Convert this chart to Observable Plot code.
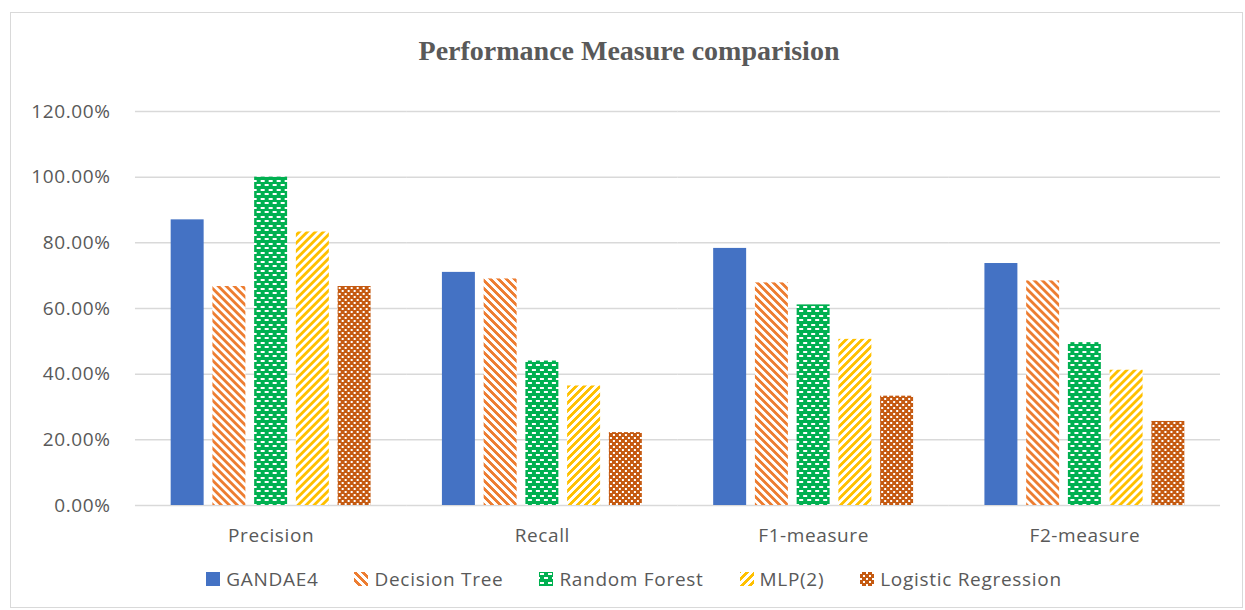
<!DOCTYPE html>
<html><head><meta charset="utf-8">
<script src="https://cdn.jsdelivr.net/npm/d3@7"></script>
<script src="https://cdn.jsdelivr.net/npm/@observablehq/plot@0.6"></script>
<style>
body{margin:0;background:#fff;}
#wrap{position:relative;width:1245px;height:610px;overflow:hidden;font-family:"Open Sans",sans-serif;background:#fff;}
#frame{position:absolute;left:10px;top:12px;width:1231px;height:594px;border:1px solid #d9d9d9;}
#title{position:absolute;top:35px;left:0;width:1258px;text-align:center;font:bold 28px "Liberation Serif",serif;color:#595959;}
#chart{position:absolute;left:0;top:80px;}
#legend{position:absolute;top:566px;left:0;width:1268px;display:flex;justify-content:center;gap:36px;font-size:19px;color:#595959;letter-spacing:0.7px;}
#legend .item{display:flex;align-items:center;white-space:nowrap;}
#legend svg{margin-right:6px;}
#defs{position:absolute;width:0;height:0;}
</style></head>
<body>
<div id="wrap">
<svg id="defs" width="0" height="0"><defs id="patdefs"></defs></svg>
<div id="frame"></div>
<div id="title">Performance Measure comparision</div>
<div id="chart"></div>
<div id="legend"></div>
</div>
<script>
const categories = ["Precision", "Recall", "F1-measure", "F2-measure"];
const seriesNames = ["GANDAE4", "Decision Tree", "Random Forest", "MLP(2)", "Logistic Regression"];
const gandae4 = [87.0, 71.0, 78.3, 73.7];
const decisionTree = [66.7, 69.0, 67.8, 68.4];
const randomForest = [100.0, 44.0, 61.1, 49.6];
const mlp2 = [83.3, 36.4, 50.6, 41.2];
const logisticRegression = [66.7, 22.2, 33.3, 25.6];
const yTicks = [0, 20, 40, 60, 80, 100, 120];

const seriesValues = [gandae4, decisionTree, randomForest, mlp2, logisticRegression];
const seriesFills = ["#4472C4", "url(#pat-dt)", "url(#pat-rf)", "url(#pat-mlp)", "url(#pat-lr)"];

// ---- patterns ----
const NS = "http://www.w3.org/2000/svg";
const defs = document.getElementById("patdefs");
function bitmapPattern(id, rows, fg, bg) {
  const p = document.createElementNS(NS, "pattern");
  const w = rows[0].length, h = rows.length;
  p.setAttribute("id", id);
  p.setAttribute("patternUnits", "userSpaceOnUse");
  p.setAttribute("width", w); p.setAttribute("height", h);
  const b = document.createElementNS(NS, "rect");
  b.setAttribute("width", w); b.setAttribute("height", h); b.setAttribute("fill", bg);
  p.appendChild(b);
  let d = "";
  rows.forEach((r, y) => { for (let x = 0; x < w; x++) if (r[x] === "1") d += `M${x},${y}h1v1h-1z`; });
  const path = document.createElementNS(NS, "path");
  path.setAttribute("d", d); path.setAttribute("fill", fg);
  p.appendChild(path);
  defs.appendChild(p);
}
const downDiag = ["11100001","11110000","01111000","00111100","00011110","00001111","10000111","11000011"];
const upDiag = downDiag.map(r => r.split("").reverse().join(""));
const dashes = ["00000000","01111000","01111000","00000000","00000000","10000111","10000111","00000000","00000000"];
const checker = ["110000","110000","000000","000110","000110","000000"];
bitmapPattern("pat-dt", downDiag, "#ED7D31", "#ffffff");
bitmapPattern("pat-mlp", upDiag, "#FFC000", "#ffffff");
bitmapPattern("pat-rf", dashes, "#ffffff", "#00B050");
bitmapPattern("pat-lr", checker, "#ffffff", "#C55A11");

// ---- data table ----
const rows = [];
seriesNames.forEach((s, i) => categories.forEach((c, j) => rows.push({category: c, series: s, value: seriesValues[i][j], fill: seriesFills[i]})));

const chart = Plot.plot({
  width: 1245, height: 480,
  marginLeft: 135, marginRight: 25, marginTop: 31, marginBottom: 55,
  style: {fontFamily: '"Open Sans", sans-serif', fontSize: "19px", color: "#595959", background: "transparent", overflow: "visible", letterSpacing: "0.6px"},
  fx: {domain: categories, paddingInner: 0.263, paddingOuter: 0.1315, round: false, axis: "bottom", label: null, tickSize: 0, tickPadding: 23},
  x: {domain: seriesNames, paddingInner: 0.21, paddingOuter: 0, round: false, axis: null},
  y: {domain: [0, 120], ticks: yTicks, tickFormat: d => d.toFixed(2) + "%", tickSize: 0, tickPadding: 60.7, label: null},
  color: {type: "identity"},
  marks: [
    Plot.ruleY(yTicks, {stroke: "#d9d9d9", strokeWidth: 1.5, insetLeft: -35.7, insetRight: -35.7}),
    Plot.barY(rows, {fx: "category", x: "series", y: "value", fill: "fill"})
  ]
});
document.getElementById("chart").appendChild(chart);

// ---- legend ----
const legend = document.getElementById("legend");
seriesNames.forEach((s, i) => {
  const item = document.createElement("div");
  item.className = "item";
  item.innerHTML = `<svg width="14" height="14"><rect width="14" height="14" fill="${seriesFills[i]}"></rect></svg><span>${s}</span>`;
  legend.appendChild(item);
});
</script>
</body></html>
